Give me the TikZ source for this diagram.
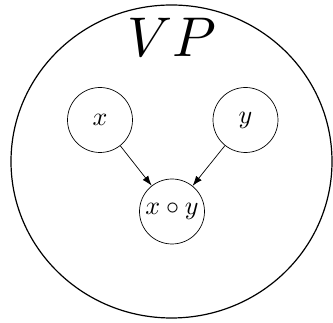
\documentclass[tikz,border=0pt]{standalone}
\usepackage{graphicx}
\usetikzlibrary{arrows.meta}
\newcommand{\scaledmath}[2]{\scalebox{#1}{$#2$}}
\begin{document}
\begin{tikzpicture}[x=1pt,y=1pt,
  var/.style={draw,circle,line width=0.7pt,minimum size=65pt,inner sep=0pt},
  conn/.style={-{Latex[length=10pt,width=7pt]},line width=0.7pt}]
\useasboundingbox (0,0) rectangle (333,323);
\draw[line width=1.2pt] (171.5,161.5) ellipse [x radius=160.5, y radius=156.5];
\node[anchor=base] (vp) at (172,266) {\scaledmath{5.6}{VP}};
\node[var] (x) at (100,203) {\scaledmath{2.6}{x}};
\node[var] (y) at (245.5,203) {\scaledmath{2.6}{y}};
\node[var] (xy) at (172,111.5) {\scaledmath{2.6}{x\circ y}};
\draw[conn] (x) -- (xy);
\draw[conn] (y) -- (xy);
\end{tikzpicture}
\end{document}
